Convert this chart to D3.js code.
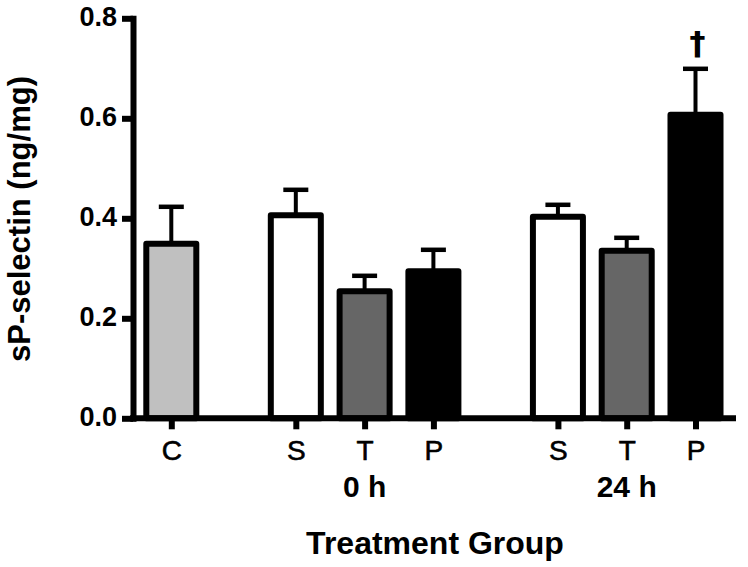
<!DOCTYPE html>
<html>
<head>
<meta charset="utf-8">
<script src="https://cdn.jsdelivr.net/npm/d3@7"></script>
<style>
  html, body { margin: 0; padding: 0; background: #fff; }
  svg { display: block; }
  text { font-family: "Liberation Sans", Arial, Helvetica, sans-serif; fill: #000; }
</style>
</head>
<body>
<svg id="chart" width="748" height="567"></svg>
<script>
// ---- data ----
const categories = ["C", "S", "T", "P", "S", "T", "P"];
const groupOf    = [0, 1, 1, 1, 2, 2, 2];
const groupLabels = ["", "0 h", "24 h"];
const means = [0.349, 0.406, 0.254, 0.294, 0.403, 0.335, 0.607];
const sems  = [0.074, 0.051, 0.031, 0.043, 0.024, 0.026, 0.092];
const markers = ["", "", "", "", "", "", "\u2020"];
const yTicks = [0.0, 0.2, 0.4, 0.6, 0.8];
const yTitle = "sP-selectin (ng/mg)";
const xTitle = "Treatment Group";

// ---- styles ----
const fillOf = { C: "#c0c0c0", S: "#ffffff", T: "#666666", P: "#000000" };
const groupGap = 0.81;

const svg = d3.select("#chart");

const slots = categories.map((c, i) => i + groupOf[i] * groupGap);
const x = d3.scaleLinear().domain([0, d3.max(slots)]).range([171.3, 695.5]);
const y = d3.scaleLinear().domain([0, 0.8]).range([418.3, 18.3]);
const slotW = x(1) - x(0);
const barW = slotW * 0.727;

const data = categories.map((c, i) => ({
  cat: c, slot: slots[i], mean: means[i], sem: sems[i], marker: markers[i], group: groupOf[i]
}));

// bars
svg.append("g").selectAll("rect").data(data).join("rect")
  .attr("x", d => x(d.slot) - barW / 2)
  .attr("y", d => y(d.mean))
  .attr("width", barW)
  .attr("height", d => y(0) - y(d.mean))
  .attr("fill", d => fillOf[d.cat])
  .attr("stroke", "#000")
  .attr("stroke-width", 6)
  .attr("stroke-linejoin", "round");

// error bars
const eg = svg.append("g");
eg.selectAll("line.v").data(data).join("line")
  .attr("class", "v")
  .attr("x1", d => x(d.slot)).attr("x2", d => x(d.slot))
  .attr("y1", d => y(d.mean)).attr("y2", d => y(d.mean + d.sem))
  .attr("stroke", "#000").attr("stroke-width", 4);
eg.selectAll("line.c").data(data).join("line")
  .attr("class", "c")
  .attr("x1", d => x(d.slot) - 12.5).attr("x2", d => x(d.slot) + 12.5)
  .attr("y1", d => y(d.mean + d.sem)).attr("y2", d => y(d.mean + d.sem))
  .attr("stroke", "#000").attr("stroke-width", 4.5);

// significance markers
svg.append("g").selectAll("text").data(data.filter(d => d.marker)).join("text")
  .attr("x", d => x(d.slot) + 2)
  .attr("y", d => y(d.mean + d.sem) - 15)
  .attr("text-anchor", "middle")
  .attr("font-size", 32)
  .attr("font-weight", "bold")
  .style("font-family", "'DejaVu Sans', sans-serif")
  .text(d => d.marker);

// y axis
const yAxis = svg.append("g")
  .attr("transform", "translate(133,0)")
  .call(d3.axisLeft(y).tickValues(yTicks).tickFormat(d3.format(".1f"))
        .tickSize(11).tickSizeOuter(0).tickPadding(5));
yAxis.select(".domain").attr("stroke", "#000").attr("stroke-width", 6)
  .attr("stroke-linecap", "square");
yAxis.selectAll(".tick line").attr("stroke", "#000").attr("stroke-width", 6);
yAxis.selectAll(".tick text")
  .attr("font-size", 27).attr("font-weight", "bold")
  .attr("font-family", "'Liberation Sans', Arial, sans-serif")
  .attr("fill", "#000").attr("dy", "0.28em");

// x axis
svg.append("line")
  .attr("x1", 130).attr("x2", 736)
  .attr("y1", y(0)).attr("y2", y(0))
  .attr("stroke", "#000").attr("stroke-width", 6);
const xAxis = svg.append("g")
  .attr("transform", `translate(0,${y(0)})`)
  .call(d3.axisBottom(x).tickValues(slots).tickFormat((d, i) => categories[i])
        .tickSize(11).tickSizeOuter(0));
xAxis.select(".domain").remove();
xAxis.selectAll(".tick line").attr("stroke", "#000").attr("stroke-width", 6);
xAxis.selectAll(".tick text")
  .attr("font-size", 28).attr("font-weight", "normal")
  .attr("font-family", "'Liberation Sans', Arial, sans-serif")
  .attr("stroke", "#000").attr("stroke-width", 0.6)
  .attr("fill", "#000").attr("dy", 0).attr("y", 42);

// group labels (centered under each group)
const groupCenters = groupLabels.map((g, gi) => d3.mean(data.filter(d => d.group === gi), d => d.slot));
svg.append("g").selectAll("text").data(groupLabels.map((g, gi) => ({ g, c: groupCenters[gi] })).filter(d => d.g))
  .join("text")
  .attr("x", d => x(d.c))
  .attr("y", 497)
  .attr("text-anchor", "middle")
  .attr("font-size", 30)
  .attr("font-weight", "bold")
  .text(d => d.g);

// axis titles
svg.append("text")
  .attr("x", 435).attr("y", 554)
  .attr("text-anchor", "middle")
  .attr("font-size", 32).attr("font-weight", "bold")
  .text(xTitle);

svg.append("text")
  .attr("transform", "translate(30,219) rotate(-90)")
  .attr("text-anchor", "middle")
  .attr("font-size", 31).attr("font-weight", "bold")
  .text(yTitle);
</script>
</body>
</html>
